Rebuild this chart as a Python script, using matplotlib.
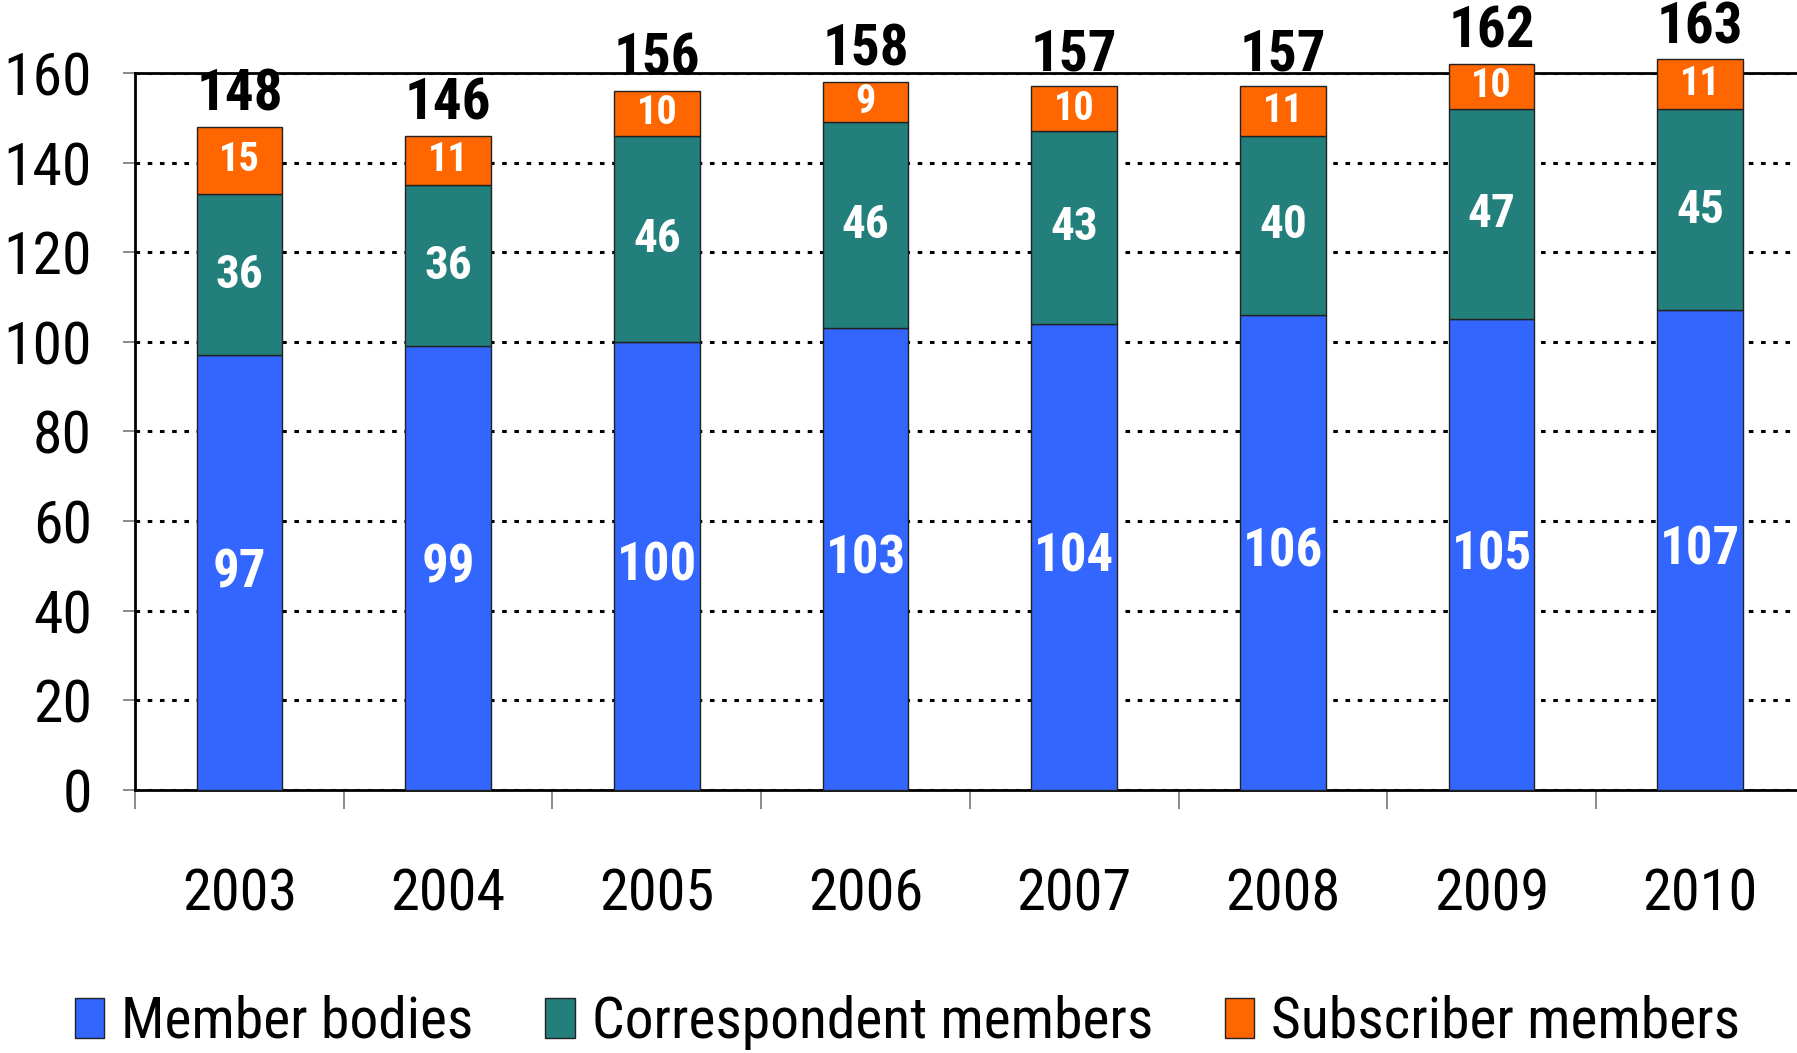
import matplotlib
matplotlib.use("Agg")
import matplotlib.pyplot as plt
from matplotlib.patches import Patch
import numpy as np

years = ["2003", "2004", "2005", "2006", "2007", "2008", "2009", "2010"]
member_bodies = [97, 99, 100, 103, 104, 106, 105, 107]
correspondent = [36, 36, 46, 46, 43, 40, 47, 45]
subscriber = [15, 11, 10, 9, 10, 11, 10, 11]
series_names = ["Member bodies", "Correspondent members", "Subscriber members"]
colors = ["#3366FF", "#227F7C", "#FF6600"]
yticks = [0, 20, 40, 60, 80, 100, 120, 140, 160]

FONT = ["Nimbus Sans Narrow", "Liberation Sans Narrow", "Roboto Condensed", "PT Sans Narrow", "DejaVu Sans"]
plt.rcParams["font.family"] = FONT

fig = plt.figure(figsize=(17.97, 10.53), dpi=100)
ax = fig.add_axes([0.0752, 0.2498, 0.929, 0.681])

x = np.arange(len(years))
w = 0.41
mb = np.array(member_bodies)
cm = np.array(correspondent)
sm = np.array(subscriber)
bars = []
bars += ax.bar(x, mb, w, color=colors[0], edgecolor="#222222", linewidth=1, zorder=3)
bars += ax.bar(x, cm, w, bottom=mb, color=colors[1], edgecolor="#222222", linewidth=1, zorder=3)
bars += ax.bar(x, sm, w, bottom=mb + cm, color=colors[2], edgecolor="#222222", linewidth=1, zorder=3)
for b in bars:
    b.set_clip_on(False)

for i in range(len(years)):
    ax.text(x[i], mb[i] / 2, str(mb[i]), ha="center", va="center", color="white",
            fontsize=38, fontweight="bold", zorder=4)
    ax.text(x[i], mb[i] + cm[i] / 2, str(cm[i]), ha="center", va="center", color="white",
            fontsize=34, fontweight="bold", zorder=4)
    ax.text(x[i], mb[i] + cm[i] + sm[i] / 2, str(sm[i]), ha="center", va="center", color="white",
            fontsize=29, fontweight="bold", zorder=4)
    tot = mb[i] + cm[i] + sm[i]
    ax.text(x[i], tot + 0.9, str(tot), ha="center", va="bottom", color="black",
            fontsize=41, fontweight="bold", zorder=4, clip_on=False)

ax.set_ylim(0, 160)
ax.set_xlim(-0.5, 7.5)
ax.set_yticks(yticks)
ax.set_yticklabels([str(v) for v in yticks], fontsize=43)
ax.yaxis.grid(True, color="black", linestyle=(0, (1.5, 2.5)), linewidth=2.2, zorder=1)
ax.set_axisbelow(True)

ax.set_xticks(np.arange(-0.5, 8.0, 1.0))
ax.set_xticklabels([])
ax.set_xticks(x, minor=True)
ax.set_xticklabels(years, minor=True, fontsize=42)
ax.tick_params(axis="x", which="major", direction="out", length=14, width=1.2, color="#777777")
ax.tick_params(axis="x", which="minor", length=0, pad=56)
ax.tick_params(axis="y", direction="out", length=9, width=1.2, color="#777777", pad=22)

for s in ["left", "bottom", "top"]:
    ax.spines[s].set_linewidth(2)
    ax.spines[s].set_color("black")
ax.spines["right"].set_visible(False)

handles = [Patch(facecolor=c, edgecolor="#222222", linewidth=1) for c in colors]
fig.legend(handles, series_names, loc="center", bbox_to_anchor=(0.505, 0.029), ncol=3,
           frameon=False, fontsize=41.5, handlelength=0.51, handleheight=0.7,
           handletextpad=0.29, columnspacing=1.25, borderaxespad=0)

fig.savefig("out.png", dpi=100)
